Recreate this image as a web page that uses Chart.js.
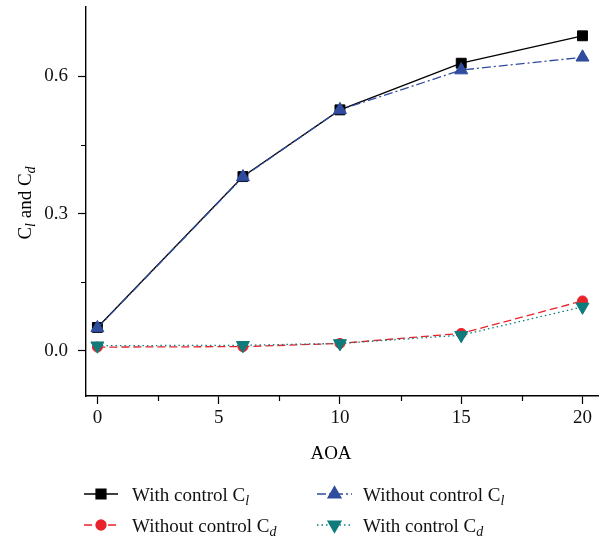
<!DOCTYPE html>
<html>
<head>
<meta charset="utf-8">
<script src="https://cdn.jsdelivr.net/npm/chart.js@4/dist/chart.umd.min.js"></script>
<style>
  html, body { margin: 0; padding: 0; background: #fff; }
  #wrap { width: 599px; height: 537px; }
</style>
</head>
<body>
<div id="wrap"><canvas id="c" width="599" height="537"></canvas></div>
<script>
// data
var aoa = [0, 6, 10, 15, 20];
var clWith = [0.051, 0.381, 0.527, 0.629, 0.689];
var cdWithout = [0.008, 0.009, 0.016, 0.038, 0.109];
var clWithout = [0.050, 0.380, 0.527, 0.614, 0.642];
var cdWith = [0.011, 0.012, 0.016, 0.034, 0.096];

var xTicks = [0, 5, 10, 15, 20];
var xMinor = [2.5, 7.5, 12.5, 17.5];
var yTicks = [0, 0.3, 0.6];
var yMinor = [0.15, 0.45];

var FONT = "'Liberation Serif', 'DejaVu Serif', serif";

function pts(ys) {
  return aoa.map(function (x, i) { return {x: x, y: ys[i]} });
}

// each legend entry: prefix text + subscript letter
var series = [
  {name: "With control ", sub: "l", data: clWith, color: "#000000", dash: [], style: "rect", r: 7, rot: 0, order: 4},
  {name: "Without control ", sub: "d", data: cdWithout, color: "#e8232b", dash: [8, 4], style: "circle", r: 5, rot: 0, order: 3},
  {name: "Without control ", sub: "l", data: clWithout, color: "#2f4c9e", dash: [9, 3, 2, 3], style: "triangle", r: 7.5, rot: 0, order: 2},
  {name: "With control ", sub: "d", data: cdWith, color: "#0f7b7b", dash: [1.5, 3], style: "triangle", r: 7.5, rot: 180, order: 1}
];

function drawRich(ctx, parts, x, y, align) {
  var total = 0;
  parts.forEach(function (p) {
    ctx.font = (p.italic ? "italic " : "") + p.size + "px " + FONT;
    p.w = ctx.measureText(p.t).width;
    total += p.w;
  });
  var cx = align === "center" ? x - total / 2 : x;
  ctx.textAlign = "left";
  ctx.textBaseline = "alphabetic";
  parts.forEach(function (p) {
    ctx.font = (p.italic ? "italic " : "") + p.size + "px " + FONT;
    ctx.fillText(p.t, cx, y + (p.dy || 0));
    cx += p.w;
  });
}

var extras = {
  id: "extras",
  afterDraw: function (chart) {
    var ctx = chart.ctx, xs = chart.scales.x, ys = chart.scales.y;
    var area = chart.chartArea;
    ctx.save();
    // minor ticks
    ctx.strokeStyle = "#000";
    ctx.lineWidth = 1.2;
    ctx.beginPath();
    xMinor.forEach(function (v) {
      var px = Math.round(xs.getPixelForValue(v)) + 0.5;
      ctx.moveTo(px, area.bottom);
      ctx.lineTo(px, area.bottom + 5);
    });
    yMinor.forEach(function (v) {
      var py = Math.round(ys.getPixelForValue(v)) + 0.5;
      ctx.moveTo(area.left, py);
      ctx.lineTo(area.left - 5, py);
    });
    ctx.stroke();

    ctx.fillStyle = "#000";
    // x title
    drawRich(ctx, [{t: "AOA", size: 19}], 331, 459, "center");
    // y title
    ctx.save();
    ctx.translate(31, 203);
    ctx.rotate(-Math.PI / 2);
    drawRich(ctx, [
      {t: "C", size: 19},
      {t: "l", size: 14, italic: true, dy: 4},
      {t: " and C", size: 19},
      {t: "d", size: 14, italic: true, dy: 4}
    ], 0, 0, "center");
    ctx.restore();

    // legend, two columns
    var cols = [{x0: 84, x1: 118, tx: 132}, {x0: 317, x1: 352, tx: 363}];
    var rows = [494, 525];
    var slots = [[0, 0], [1, 0], [0, 1], [1, 1]];
    series.forEach(function (s, i) {
      var c = cols[slots[i][1]], y = rows[slots[i][0]];
      ctx.save();
      ctx.strokeStyle = s.color;
      ctx.fillStyle = s.color;
      ctx.lineWidth = 1.3;
      ctx.setLineDash(s.dash);
      ctx.beginPath();
      ctx.moveTo(c.x0, y);
      ctx.lineTo(c.x1, y);
      ctx.stroke();
      ctx.setLineDash([]);
      Chart.helpers.drawPoint(ctx, {pointStyle: s.style, rotation: s.rot, radius: s.r, borderWidth: 1}, (c.x0 + c.x1) / 2, y);
      ctx.restore();
      ctx.fillStyle = "#111";
      drawRich(ctx, [
        {t: s.name + "C", size: 19},
        {t: s.sub, size: 14, italic: true, dy: 4}
      ], c.tx, y + 7, "left");
    });
    ctx.restore();
  }
};

function noPad(s) {
  s.paddingLeft = 0; s.paddingRight = 0; s.paddingTop = 0; s.paddingBottom = 0;
}

new Chart(document.getElementById("c"), {
  type: "line",
  data: {
    datasets: series.map(function (s) {
      return {
        label: s.name + "C" + s.sub,
        data: pts(s.data),
        borderColor: s.color,
        backgroundColor: s.color,
        borderWidth: 1.3,
        borderDash: s.dash,
        pointStyle: s.style,
        pointRadius: s.r,
        pointRotation: s.rot,
        pointBorderWidth: 1,
        pointBackgroundColor: s.color,
        pointBorderColor: s.color,
        tension: 0,
        order: s.order
      }
    })
  },
  options: {
    responsive: false,
    animation: false,
    layout: {autoPadding: false, padding: {top: 7, right: 0, bottom: 0, left: 0}},
    plugins: {legend: {display: false}, tooltip: {enabled: false}},
    scales: {
      x: {
        type: "linear",
        min: -0.47,
        max: 20.68,
        afterBuildTicks: function (s) { s.ticks = xTicks.map(function (v) { return {value: v} }) },
        afterFit: function (s) { s.height = 141; noPad(s) },
        grid: {drawOnChartArea: false, tickLength: 8, tickColor: "#000", tickWidth: 1.2},
        border: {display: true, color: "#000", width: 1.4},
        ticks: {color: "#111", padding: 3, maxRotation: 0, font: {family: FONT, size: 19}}
      },
      y: {
        type: "linear",
        min: -0.099,
        max: 0.752,
        afterBuildTicks: function (s) { s.ticks = yTicks.map(function (v) { return {value: v} }) },
        afterFit: function (s) { s.width = 86; noPad(s) },
        grid: {drawOnChartArea: false, tickLength: 8, tickColor: "#000", tickWidth: 1.2},
        border: {display: true, color: "#000", width: 1.4},
        ticks: {
          color: "#111", padding: 10, font: {family: FONT, size: 19},
          callback: function (v) { return v.toFixed(1) }
        }
      }
    }
  },
  plugins: [extras]
});
</script>
</body>
</html>
